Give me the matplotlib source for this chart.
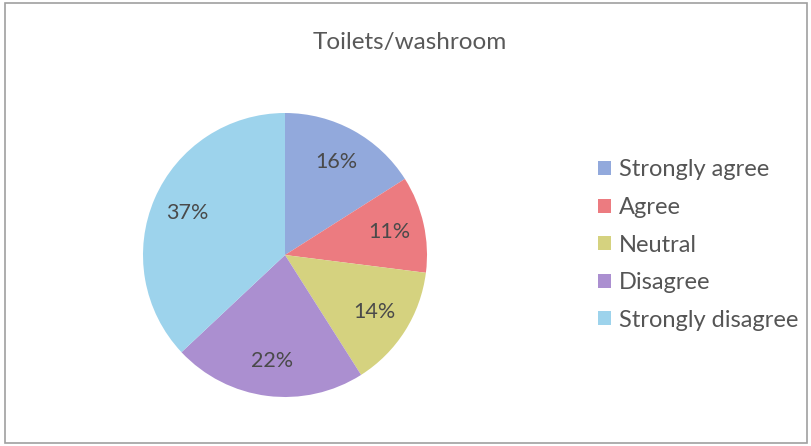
import matplotlib
matplotlib.use("Agg")
import matplotlib.pyplot as plt
from matplotlib.patches import Patch, Rectangle

categories = ["Strongly agree", "Agree", "Neutral", "Disagree", "Strongly disagree"]
values = [16, 11, 14, 22, 37]
colors = ["#92a9dc", "#ec7b80", "#d5d27f", "#ab8fd0", "#9dd3ec"]
title = "Toilets/washroom"

plt.rcParams['font.family'] = ['Lato', 'DejaVu Sans']

W, H = 812, 446
fig = plt.figure(figsize=(W / 100, H / 100), dpi=100)
fig.patch.set_facecolor("white")

cx, cy, r = 285, 255, 142
ax = fig.add_axes([(cx - r) / W, (H - cy - r) / H, 2 * r / W, 2 * r / H])
wedges, texts, autotexts = ax.pie(values, colors=colors, startangle=90, counterclock=False,
                                  autopct='%1.0f%%', pctdistance=0.75, radius=1,
                                  textprops=dict(color="#4a4a4a", fontsize=15.5))
ax.set_xlim(-1, 1)
ax.set_ylim(-1, 1)
ax.set_aspect('equal')
ax.axis('off')

fig.text(410 / W, 1 - 42 / H, title, ha='center', va='center', fontsize=17.5, color="#595959")

handles = [Patch(facecolor=c, edgecolor='none') for c in colors]
leg = fig.legend(handles, categories, loc='center left', bbox_to_anchor=(598 / W, 1 - 245 / H),
                 frameon=False, fontsize=17, handlelength=0.55, handleheight=0.55,
                 handletextpad=0.35, labelspacing=0.7, borderpad=0, borderaxespad=0)
for t in leg.get_texts():
    t.set_color("#555555")

fig.add_artist(Rectangle((5 / W, 3 / H), (W - 10) / W, (H - 6) / H, transform=fig.transFigure,
                         fill=False, edgecolor="#a0a0a0", linewidth=1.2))

fig.savefig("out.png", dpi=100)
